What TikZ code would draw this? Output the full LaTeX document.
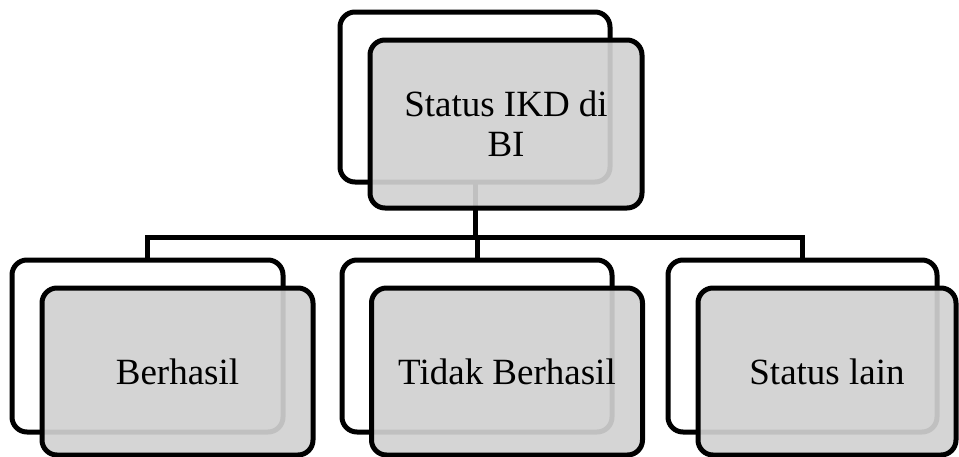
\documentclass[tikz,border=0pt]{standalone}
\usepackage{fontspec}
\setmainfont{Liberation Serif}
\begin{document}
\begin{tikzpicture}[x=1pt,y=-1pt,
  backbox/.style={draw=black, line width=5pt, rounded corners=15pt, fill=white,
    minimum width=270pt, minimum height=170pt, inner sep=0pt, outer sep=0pt},
  frontbox/.style={draw=black, line width=5pt, rounded corners=15pt, fill=gray!36,
    fill opacity=0.92, text opacity=1, draw opacity=1,
    minimum width=271pt, minimum height=167pt, inner sep=0pt, outer sep=0pt,
    align=center, font=\fontsize{37}{40}\selectfont},
  conn/.style={draw=black, line width=5pt}]
\useasboundingbox (0,0) rectangle (959,456);
% back boxes
\node[backbox] (tb) at (475,97) {};
\node[backbox, minimum width=271pt, minimum height=172pt] (lb) at (147.5,346) {};
\node[backbox, minimum height=172pt] (mb) at (477,346) {};
\node[backbox, minimum width=269pt, minimum height=172pt] (rb) at (802.5,346) {};
% connectors
\coordinate (j) at (475,237);
\draw[conn] (tb.south) -- (j);
\draw[conn] (j) -| (lb.north);
\draw[conn] (j) -| (mb.north);
\draw[conn] (j) -| (rb.north);
% front boxes
\node[frontbox, minimum width=272pt, minimum height=168pt] (tf) at (506,124) {Status IKD di\\BI};
\node[frontbox] (lf) at (177.5,371.5) {Berhasil};
\node[frontbox] (mf) at (507,371.5) {Tidak Berhasil};
\node[frontbox, minimum width=258pt] (rf) at (827,371.5) {Status lain};
\end{tikzpicture}
\end{document}
